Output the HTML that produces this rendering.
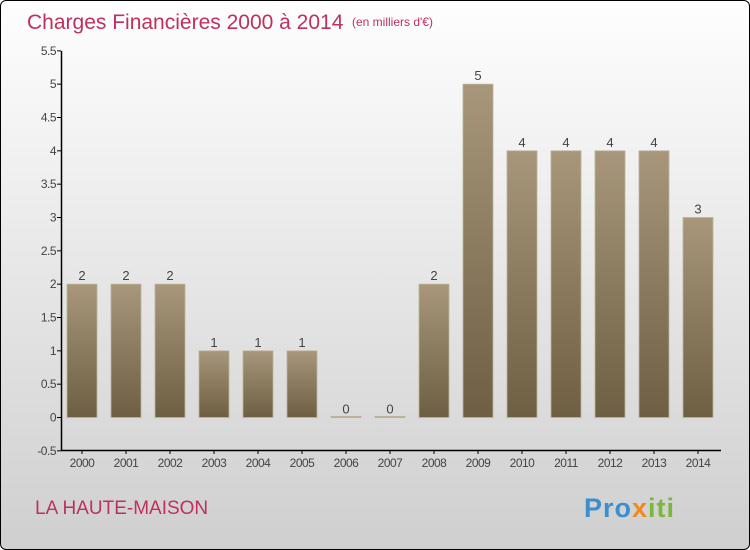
<!DOCTYPE html>
<html><head><meta charset="utf-8"><style>
body{margin:0}
#c{position:relative;width:748px;height:548px;border:1px solid #000;border-radius:6px;overflow:hidden;background:linear-gradient(#fefefe,#f0f0f0 30%,#cfcfcf);font-family:"Liberation Sans",sans-serif}
</style></head><body>
<div id="c">
<svg width="748" height="548">
<defs><linearGradient id="g" x1="0" y1="0" x2="0" y2="1"><stop offset="0" stop-color="#a8977a"/><stop offset="1" stop-color="#6e5f42"/></linearGradient></defs>
<text x="26" y="28" font-size="21" fill="#c0305c">Charges Financières 2000 à 2014</text>
<text x="351" y="25" font-size="12" fill="#c0305c">(en milliers d'€)</text>
<text x="34" y="513" font-size="19" fill="#c0305c">LA HAUTE-MAISON</text>
<text x="583" y="516" font-size="27" font-weight="bold" fill="#3a8fd0" letter-spacing="1">Pro<tspan fill="#f08a1a">x</tspan><tspan fill="#7ab83a">iti</tspan></text>
<g id="plot"></g>
</svg>
</div>
<script>
const categories=["2000","2001","2002","2003","2004","2005","2006","2007","2008","2009","2010","2011","2012","2013","2014"];
const values=[2,2,2,1,1,1,0,0,2,5,4,4,4,4,3];
const ticks=["-0.5","0","0.5","1","1.5","2","2.5","3","3.5","4","4.5","5","5.5"];
const tickVals=[-0.5,0,0.5,1,1.5,2,2.5,3,3.5,4,4.5,5,5.5];
const ns="http://www.w3.org/2000/svg";
const g=document.getElementById('plot');
const y=v=>416-(v*66.67)+0.5, x=i=>81+i*44;
function mk(t,a,txt){const e=document.createElementNS(ns,t);for(const k in a)e.setAttribute(k,a[k]);if(txt!==undefined)e.textContent=txt;g.appendChild(e);return e;}
tickVals.forEach((v,i)=>{
 const t=mk('line',{x1:56,x2:60,y1:y(v),y2:y(v),stroke:'#000'});
 
 
 const l=mk('text',{x:55,y:y(v)+4,'font-size':12,fill:'#444','text-anchor':'end','letter-spacing':'-0.5'},ticks[i]);
 
 
});
categories.forEach((c,i)=>{
 const v=values[i];const top=y(v),h=Math.max(y(0)-top,1);
 const b=mk('rect',{x:x(i)-15,y:v>0?top:y(0)-1,width:30,height:h,fill:'url(#g)',stroke:'#bfb29c','stroke-width':0.8});
 
 
 const vl=mk('text',{x:x(i),y:top-4,'font-size':13,fill:'#444','text-anchor':'middle'},String(v));
 
 
 const t=mk('line',{x1:x(i),x2:x(i),y1:449,y2:453,stroke:'#000'});
 
 
 const xl=mk('text',{x:x(i),y:466,'font-size':12,fill:'#444','text-anchor':'middle','letter-spacing':'-0.5'},c);
 
 
});
const ya=mk('line',{x1:60.5,x2:60.5,y1:y(5.5),y2:449.5,stroke:'#000','stroke-width':1.5});


const xa=mk('line',{x1:60,x2:720,y1:449.5,y2:449.5,stroke:'#000','stroke-width':1.5});


</script>
</body></html>
